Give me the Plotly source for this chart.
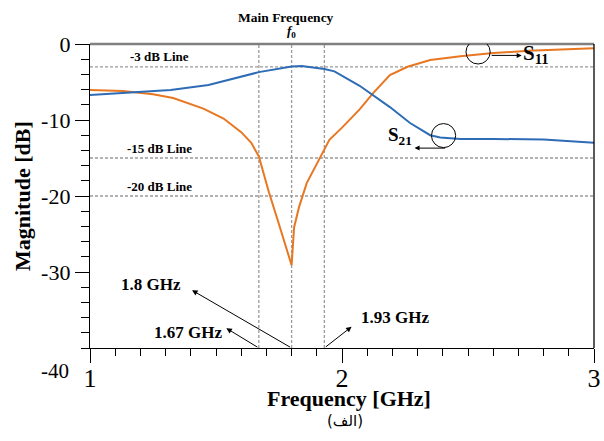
import plotly.graph_objects as go

# ---- data ----
freq_s11 = [1.0, 1.13, 1.25, 1.33, 1.45, 1.53, 1.60, 1.64, 1.67, 1.71, 1.745, 1.80, 1.81, 1.83, 1.86,
            1.92, 1.95, 2.0, 2.07, 2.12, 2.19, 2.26, 2.35, 2.47, 2.60, 2.74, 2.88, 3.0]
s11_db = [-6.05, -6.2, -6.6, -7.1, -8.5, -9.8, -11.6, -13.0, -14.8, -19.5, -23.2, -29.1, -24.1, -21.4, -18.3,
          -14.6, -12.6, -11.0, -8.6, -6.6, -4.1, -3.0, -2.1, -1.6, -1.2, -0.9, -0.7, -0.55]

freq_s21 = [1.0, 1.14, 1.32, 1.47, 1.67, 1.80, 1.84, 1.93, 1.97, 2.07, 2.12, 2.19, 2.27, 2.35, 2.39,
            2.47, 2.6, 2.8, 3.0]
s21_db = [-6.7, -6.4, -6.05, -5.4, -3.7, -2.95, -2.9, -3.3, -3.6, -5.5, -6.7, -8.3, -10.4, -12.0, -12.3,
          -12.5, -12.5, -12.55, -13.0]

ref_levels = [-3, -15, -20]
ref_labels = ["-3 dB Line", "-15 dB Line", "-20 dB Line"]
marker_freqs = [1.67, 1.8, 1.93]
marker_labels = ["1.67 GHz", "1.8 GHz", "1.93 GHz"]
x_ticks = [1, 2, 3]
y_ticks = [0, -10, -20, -30]

ORANGE = "#E87722"
BLUE = "#2E6CB5"
GRID = "#9a9a9a"
SERIF = "Liberation Serif"

L, R, T, B = 90, 594, 44, 348
W, H = R - L, B - T


def px(xp):
    return (xp - L) / W


def py(yp):
    return (B - yp) / H


def paper_text(xp, yp, text, size, family=SERIF, angle=0):
    fig.add_annotation(xref="paper", yref="paper", x=px(xp), y=py(yp), text=text,
                       showarrow=False, xanchor="center", yanchor="middle", textangle=angle,
                       font=dict(family=family, size=size, color="black"))


fig = go.Figure()
fig.add_trace(go.Scatter(x=freq_s11, y=s11_db, mode="lines", line=dict(color=ORANGE, width=2), name="S11"))
fig.add_trace(go.Scatter(x=freq_s21, y=s21_db, mode="lines", line=dict(color=BLUE, width=2), name="S21"))

# reference dashed lines
for lv, lb in zip(ref_levels, ref_labels):
    fig.add_shape(type="line", xref="x", yref="y", x0=1, x1=3, y0=lv, y1=lv,
                  line=dict(color=GRID, width=1.3, dash="3px,2px"), layer="below")
    fig.add_annotation(x=1.275, y=lv, yshift=10, text="<b>%s</b>" % lb, showarrow=False,
                       font=dict(family=SERIF, size=13, color="black"))
for f in marker_freqs:
    fig.add_shape(type="line", xref="x", yref="y", x0=f, x1=f, y0=-40, y1=0,
                  line=dict(color=GRID, width=1.3, dash="3px,2px"), layer="below")

# frame: top gray, right black
fig.add_shape(type="line", xref="paper", yref="paper", x0=0, x1=1, y0=1, y1=1,
              line=dict(color="#808080", width=2.5))
fig.add_shape(type="line", xref="paper", yref="paper", x0=1, x1=1, y0=0, y1=1,
              line=dict(color="black", width=1.3))

# frequency marker arrows
arrow_heads = {1.67: (1.541, -37.4), 1.8: (1.405, -32.4), 1.93: (2.038, -37.2)}
for f in marker_freqs:
    hx, hy = arrow_heads[f]
    fig.add_annotation(x=hx, y=hy, ax=f, ay=-40, xref="x", yref="y", axref="x", ayref="y",
                       text="", showarrow=True, arrowhead=2, arrowsize=1.1, arrowwidth=1, arrowcolor="black")
label_pos = {"1.67 GHz": (1.39, -37.9), "1.8 GHz": (1.242, -31.7), "1.93 GHz": (2.21, -36.05)}
for lb in marker_labels:
    lx, ly = label_pos[lb]
    fig.add_annotation(x=lx, y=ly, text="<b>%s</b>" % lb, showarrow=False,
                       font=dict(family=SERIF, size=17, color="black"))

# Main frequency label
paper_text(285.5, 17.5, "<b>Main Frequency</b>", 13.5)
paper_text(291, 32, "<b><i>f</i><sub>0</sub></b>", 13)

# S11 / S21 circles and arrows
fig.add_shape(type="circle", xref="x", yref="y", x0=2.492, x1=2.588, y0=-2.63, y1=0.53,
              line=dict(color="black", width=1))
fig.add_annotation(x=2.713, y=-1.5, ax=2.588, ay=-1.5, xref="x", yref="y", axref="x", ayref="y",
                   text="", showarrow=True, arrowhead=2, arrowsize=1, arrowwidth=1, arrowcolor="black")
fig.add_annotation(x=2.77, y=-1.25, text="<b>S<sub>11</sub></b>", showarrow=False,
                   font=dict(family=SERIF, size=21, color="black"))
fig.add_shape(type="circle", xref="x", yref="y", x0=2.355, x1=2.451, y0=-13.63, y1=-10.47,
              line=dict(color="black", width=1))
fig.add_annotation(x=2.288, y=-13.7, ax=2.415, ay=-13.7, xref="x", yref="y", axref="x", ayref="y",
                   text="", showarrow=True, arrowhead=2, arrowsize=1, arrowwidth=1, arrowcolor="black")
fig.add_annotation(x=2.23, y=-12.1, text="<b>S<sub>21</sub></b>", showarrow=False,
                   font=dict(family=SERIF, size=19, color="black"))

# -40 label (offset like original)
paper_text(55, 371, "-40", 21)

# axis titles and caption
paper_text(349, 398, "<b>Frequency [GHz]</b>", 22)
paper_text(22, 196, "<b>Magnitude [dB]</b>", 22, angle=-90)
paper_text(345, 421, "(الف)", 15, family="DejaVu Sans")

fig.update_layout(
    width=604, height=441,
    margin=dict(l=L, r=604 - R, t=T, b=441 - B, autoexpand=False),
    paper_bgcolor="white", plot_bgcolor="white",
    showlegend=False,
    xaxis=dict(range=[1, 3], tickvals=x_ticks, ticktext=[str(v) for v in x_ticks],
               automargin=False,
               showgrid=False, zeroline=False, showline=True, linecolor="black", linewidth=1.3,
               ticks="outside", ticklen=14, tickwidth=1.3, tickcolor="black",
               ticklabelstandoff=-7,
               tickfont=dict(family=SERIF, size=26, color="black"),
               minor=dict(dtick=0.1, ticks="outside", ticklen=7, tickwidth=1, tickcolor="black", showgrid=False)),
    yaxis=dict(range=[-40, 0], tickvals=y_ticks, ticktext=[str(v) for v in y_ticks],
               automargin=False,
               showgrid=False, zeroline=False, showline=True, linecolor="black", linewidth=1.3,
               ticks="outside", ticklen=14, tickwidth=1.3, tickcolor="black",
               tickfont=dict(family=SERIF, size=22, color="black"),
               minor=dict(dtick=2, ticks="outside", ticklen=8, tickwidth=1, tickcolor="black", showgrid=False)),
)

fig.write_html("out.html", config={"displayModeBar": False},
               post_script="document.body.style.margin='0';document.body.style.overflow='hidden';")
